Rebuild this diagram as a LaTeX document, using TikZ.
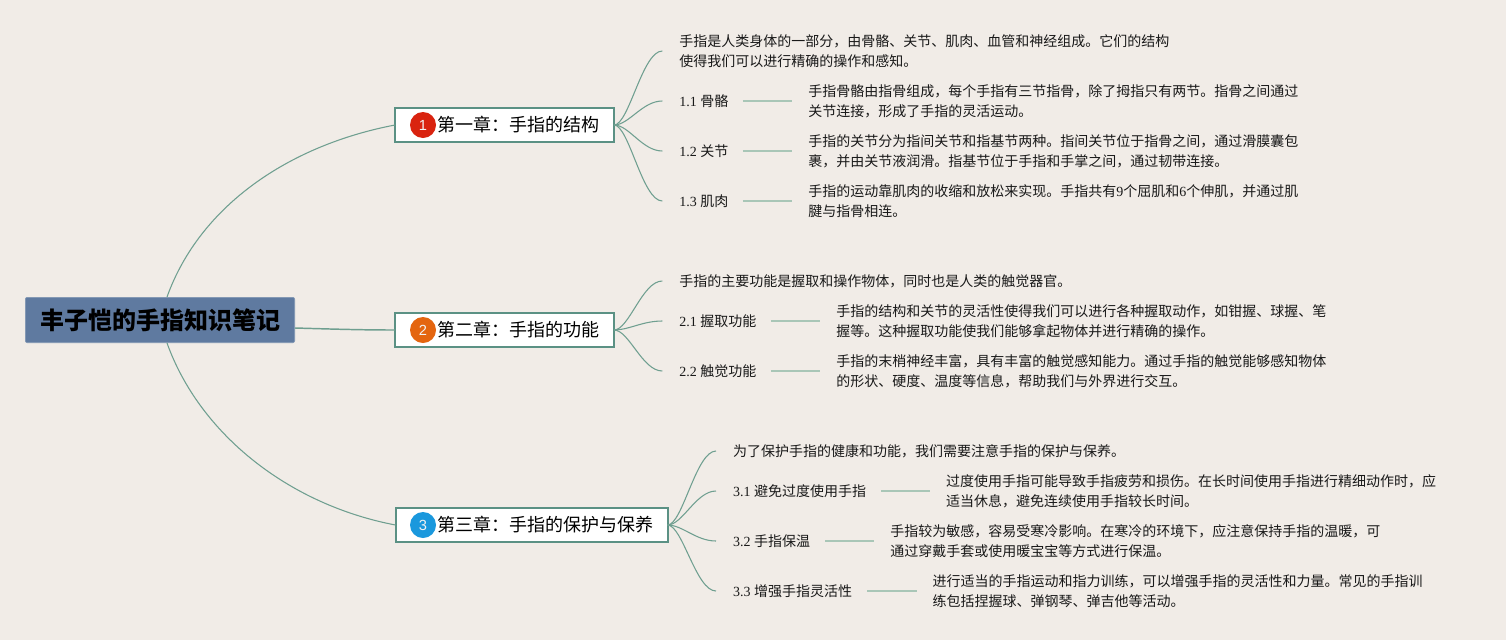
\documentclass[tikz,border=0pt]{standalone}
\usepackage{fontspec}
\setmainfont{Liberation Serif}
\newfontfamily\cjk{Noto Sans CJK SC}
\newfontfamily\badgefont{Liberation Sans}
\definecolor{bgc}{HTML}{F1ECE7}
\definecolor{rootc}{HTML}{5F7AA0}
\definecolor{framec}{HTML}{5B9184}
\definecolor{curvec}{HTML}{6F9F90}
\definecolor{linkc}{HTML}{A9C6B7}
\definecolor{badgea}{HTML}{D9230F}
\definecolor{badgeb}{HTML}{E4650F}
\definecolor{badgec}{HTML}{1A98DD}
\tikzset{
  rootbox/.style={fill=rootc,draw=rootc!80!white,line width=.5pt,rounded corners=1.5pt,minimum width=202pt,minimum height=34pt,inner sep=0pt,outer sep=0pt,font=\fontsize{18}{20}\selectfont\cjk\bfseries,text=black},
  chapbox/.style={fill=white,draw=framec,line width=1.5pt,minimum height=25.5pt,inner sep=0pt,outer sep=0pt,font=\fontsize{13.5}{16}\selectfont\cjk,text=black},
  badge/.style={circle,minimum size=19.5pt,inner sep=0pt,text=white!90!gray,font=\fontsize{11}{12}\selectfont\badgefont},
  bodytext/.style={anchor=west,inner sep=0pt,outer xsep=12.75pt,outer ysep=0pt,align=left,font=\fontsize{10.5}{15}\selectfont\cjk,text=black!90},
  topic/.style={bodytext},
  detail/.style={anchor=west,inner sep=0pt,outer xsep=12pt,outer ysep=0pt,align=left,font=\fontsize{10.5}{15}\selectfont\cjk,text=black!90},
  curve/.style={draw=curvec,line width=.8pt},
  link/.style={draw=linkc,line width=1.6pt},
}
\newcommand{\nm}[1]{{\rmfamily #1}}
\newcommand{\tp}[3]{\makebox[#1pt][l]{\rmfamily #2 \cjk #3}}
\begin{document}
\begin{tikzpicture}[x=.75pt,y=-.75pt]
\useasboundingbox (0,0) rectangle (1506,640);
\fill[bgc] (0,0) rectangle (1506,640);

\node[rootbox] (root) at (160,320) {丰子恺的手指知识笔记};
\coordinate (rt) at (167,297);
\coordinate (rb) at (167,343);
\coordinate (re) at (295,328);

\node[chapbox,minimum width=164.25pt] (c1) at (504.5,125) {\hspace{20.25pt}第一章：手指的结构};
\node[chapbox,minimum width=164.25pt] (c2) at (504.5,330) {\hspace{20.25pt}第二章：手指的功能};
\node[chapbox,minimum width=204pt] (c3) at (531.5,525) {\hspace{20.25pt}第三章：手指的保护与保养};
\node[badge,fill=badgea] (b1) at (423,125) {1};
\node[badge,fill=badgeb] (b2) at (423,330) {2};
\node[badge,fill=badgec] (b3) at (423,525) {3};

\draw[curve] (rt) .. controls (200,205) and (290,145) .. (c1.west);
\draw[curve] (rb) .. controls (200,435) and (290,505) .. (c3.west);
\draw[curve,line width=1.1pt] (re) .. controls (330,329) and (360,330) .. (c2.west);

% chapter 1
\node[bodytext] (i1) at (662.3,51) {手指是人类身体的一部分，由骨骼、关节、肌肉、血管和神经组成。它们的结构\\使得我们可以进行精确的操作和感知。};
\node[topic] (t11) at (662.3,101) {\tp{35}{1.1}{骨骼}};
\node[topic] (t12) at (662.3,151) {\tp{35}{1.2}{关节}};
\node[topic] (t13) at (662.3,201) {\tp{35}{1.3}{肌肉}};
\node[detail] (d11) at (792.3,101) {手指骨骼由指骨组成，每个手指有三节指骨，除了拇指只有两节。指骨之间通过\\关节连接，形成了手指的灵活运动。};
\node[detail] (d12) at (792.3,151) {手指的关节分为指间关节和指基节两种。指间关节位于指骨之间，通过滑膜囊包\\裹，并由关节液润滑。指基节位于手指和手掌之间，通过韧带连接。};
\node[detail] (d13) at (792.3,201) {手指的运动靠肌肉的收缩和放松来实现。手指共有\nm{9}个屈肌和\nm{6}个伸肌，并通过肌\\腱与指骨相连。};

% chapter 2
\node[bodytext] (i2) at (662.3,281) {手指的主要功能是握取和操作物体，同时也是人类的触觉器官。};
\node[topic] (t21) at (662.3,321) {\tp{56}{2.1}{握取功能}};
\node[topic] (t22) at (662.3,371) {\tp{56}{2.2}{触觉功能}};
\node[detail] (d21) at (820.3,321) {手指的结构和关节的灵活性使得我们可以进行各种握取动作，如钳握、球握、笔\\握等。这种握取功能使我们能够拿起物体并进行精确的操作。};
\node[detail] (d22) at (820.3,371) {手指的末梢神经丰富，具有丰富的触觉感知能力。通过手指的触觉能够感知物体\\的形状、硬度、温度等信息，帮助我们与外界进行交互。};

% chapter 3
\node[bodytext] (i3) at (716,451) {为了保护手指的健康和功能，我们需要注意手指的保护与保养。};
\node[topic] (t31) at (716,491) {\tp{98.25}{3.1}{避免过度使用手指}};
\node[topic] (t32) at (716,541) {\tp{56.25}{3.2}{手指保温}};
\node[topic] (t33) at (716,591) {\tp{87.75}{3.3}{增强手指灵活性}};
\node[detail] (d31) at (930,491) {过度使用手指可能导致手指疲劳和损伤。在长时间使用手指进行精细动作时，应\\适当休息，避免连续使用手指较长时间。};
\node[detail] (d32) at (874.3,541) {手指较为敏感，容易受寒冷影响。在寒冷的环境下，应注意保持手指的温暖，可\\通过穿戴手套或使用暖宝宝等方式进行保温。};
\node[detail] (d33) at (916.6,591) {进行适当的手指运动和指力训练，可以增强手指的灵活性和力量。常见的手指训\\练包括捏握球、弹钢琴、弹吉他等活动。};

\foreach \a/\b in {c1/i1,c1/t11,c1/t12,c1/t13,c2/i2,c2/t21,c2/t22,c3/i3,c3/t31,c3/t32,c3/t33}
  \draw[curve] (\a.east) .. controls +(15,0) and +(-20,0) .. (\b.west);
\foreach \a/\b in {t11/d11,t12/d12,t13/d13,t21/d21,t22/d22,t31/d31,t32/d32,t33/d33}
  \draw[link] (\a.east) -- (\b.west);
\end{tikzpicture}
\end{document}
